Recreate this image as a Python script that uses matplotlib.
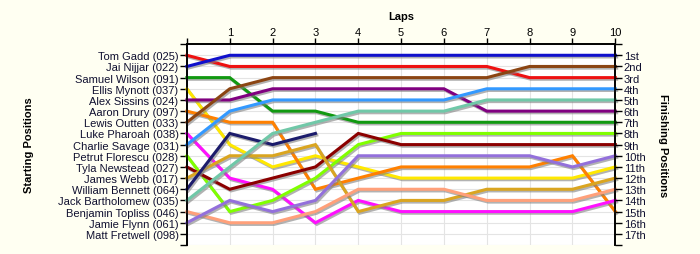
import matplotlib
matplotlib.use("Agg")
import matplotlib.pyplot as plt
import matplotlib.patheffects as pe

# laps on the x axis (0 = grid / start)
laps = [0, 1, 2, 3, 4, 5, 6, 7, 8, 9, 10]

# drivers in starting order
drivers = ["Tom Gadd (025)", "Jai Nijjar (022)", "Samuel Wilson (091)",
           "Ellis Mynott (037)", "Alex Sissins (024)", "Aaron Drury (097)",
           "Lewis Outten (033)", "Luke Pharoah (038)", "Charlie Savage (031)",
           "Petrut Florescu (028)", "Tyla Newstead (027)", "James Webb (017)",
           "William Bennett (064)", "Jack Bartholomew (035)",
           "Benjamin Topliss (046)", "Jamie Flynn (061)", "Matt Fretwell (098)"]

finish_labels = ["1st", "2nd", "3rd", "4th", "5th", "6th", "7th", "8th", "9th",
                 "10th", "11th", "12th", "13th", "14th", "15th", "16th", "17th"]

# position of each driver at every lap (shorter list = retired)
tom_gadd = [1, 2, 2, 2, 2, 2, 2, 2, 3, 3, 3]
jai_nijjar = [2, 1, 1, 1, 1, 1, 1, 1, 1, 1, 1]
samuel_wilson = [3, 3, 6, 6, 7, 7, 7, 7, 7, 7, 7]
ellis_mynott = [4, 9, 11, 10, 11, 12, 12, 12, 12, 12, 11]
alex_sissins = [5, 5, 4, 4, 4, 4, 4, 6, 6, 6, 6]
aaron_drury = [6, 7, 7, 13, 12, 11, 11, 11, 11, 10, 15]
lewis_outten = [7, 4, 3, 3, 3, 3, 3, 3, 2, 2, 2]
luke_pharoah = [8, 12, 13, 16, 14, 15, 15, 15, 15, 15, 14]
charlie_savage = [9, 6, 5, 5, 5, 5, 5, 4, 4, 4, 4]
petrut_florescu = [10, 15, 14, 12, 9, 8, 8, 8, 8, 8, 8]
tyla_newstead = [11, 13, 12, 11, 8, 9, 9, 9, 9, 9, 9]
james_webb = [12, 10, 10, 9, 15, 14, 14, 13, 13, 13, 12]
william_bennett = [13, 8, 9, 8]
jack_bartholomew = [14, 11, 8, 7, 6, 6, 6, 5, 5, 5, 5]
benjamin_topliss = [15, 16, 16, 15, 13, 13, 13, 14, 14, 14, 13]
jamie_flynn = [16, 14, 15, 14, 10, 10, 10, 10, 10, 11, 10]
matt_fretwell = []

positions = [tom_gadd, jai_nijjar, samuel_wilson, ellis_mynott, alex_sissins,
             aaron_drury, lewis_outten, luke_pharoah, charlie_savage,
             petrut_florescu, tyla_newstead, james_webb, william_bennett,
             jack_bartholomew, benjamin_topliss, jamie_flynn, matt_fretwell]

colours = ["#ee1111", "#1010cc", "#119911", "#ffe800", "#800080", "#ff8000",
           "#8b4513", "#ff10ff", "#3399ff", "#80ff00", "#8b0000", "#daa520",
           "#1c1c6c", "#70c8a8", "#ffa07a", "#9370db", "#888888"]

bg = "#fffff2"
txt = "#101030"

plt.rcParams["font.family"] = ["Liberation Sans", "DejaVu Sans"]

fig = plt.figure(figsize=(7.0, 2.55), dpi=100, facecolor=bg)
ax = fig.add_axes([0.267, 0.035, 0.612, 0.788])
ax.set_facecolor("white")

shadow = [pe.SimpleLineShadow(offset=(1, -1.2), shadow_color="#808080", alpha=0.6),
          pe.Normal()]

for pos, col in zip(positions, colours):
    if not pos:
        continue
    ax.plot(laps[:len(pos)], pos, color=col, lw=2.2, solid_joinstyle="miter",
            clip_on=False, path_effects=shadow, zorder=3)

ax.set_xlim(0, 10)
ax.set_ylim(18, 0)

# grid
ax.set_xticks(laps)
ax.set_yticks(range(0, 19))
ax.grid(True, color="#e4e4e4", lw=0.8, zorder=0)

# top axis: laps
ax.xaxis.tick_top()
ax.xaxis.set_label_position("top")
ax.set_xticklabels([""] + [str(l) for l in laps[1:]], fontsize=8, color="black")
ax.tick_params(axis="x", direction="out", length=4, width=1, pad=1)
ax.set_xlabel("Laps", fontsize=8, fontweight="bold", labelpad=6)

# left axis: starting order
ax.set_yticklabels([""] + drivers + [""], fontsize=8, color=txt)
ax.tick_params(axis="y", direction="out", length=5, width=1, pad=1)
ax.set_ylabel("Starting Positions", fontsize=8, fontweight="bold", labelpad=17)

# right axis: finishing order
ax2 = ax.twinx()
ax2.set_ylim(18, 0)
ax2.set_yticks(range(0, 19))
ax2.set_yticklabels([""] + finish_labels + [""], fontsize=8, color=txt)
ax2.tick_params(axis="y", direction="out", length=5, width=1, pad=1)
ax2.set_ylabel("Finishing Positions", fontsize=8, fontweight="bold",
               rotation=-90, labelpad=16)

for a in (ax, ax2):
    for side in ("left", "right", "top"):
        a.spines[side].set_color("black")
        a.spines[side].set_linewidth(1.2)
    a.spines["bottom"].set_visible(False)

fig.savefig("out.png", dpi=100, facecolor=bg)
